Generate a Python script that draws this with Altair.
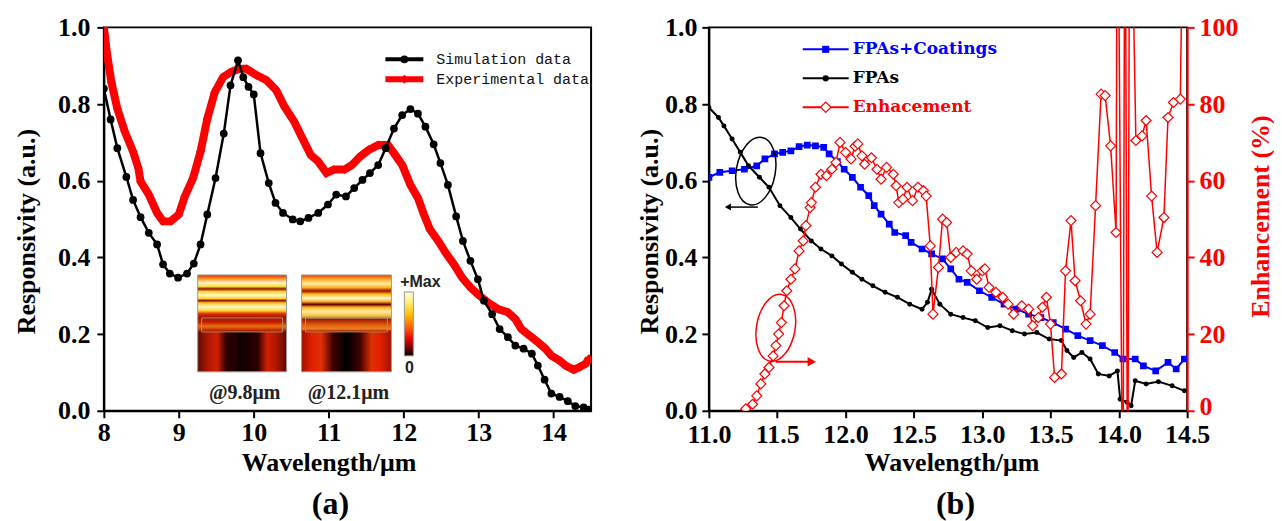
import altair as alt
import pandas as pd

SERIF = "Liberation Serif"
RED = "#ff0000"
BLUE = "#0000ff"

# ---------------- Panel (a) data ----------------
sim_x = [8.00, 8.09, 8.18, 8.30, 8.39, 8.49, 8.60, 8.71, 8.79, 8.88,
         8.99, 9.11, 9.20, 9.29, 9.38, 9.49, 9.60, 9.69, 9.79, 9.86,
         9.93, 10.00, 10.09, 10.20, 10.29, 10.39, 10.52, 10.62, 10.73, 10.86,
         10.99, 11.10, 11.23, 11.34, 11.45, 11.55, 11.66, 11.76, 11.87, 11.98,
         12.09, 12.19, 12.29, 12.40, 12.49, 12.59, 12.70, 12.79, 12.89, 12.99,
         13.07, 13.18, 13.28, 13.39, 13.49, 13.60, 13.71, 13.79, 13.88, 13.97,
         14.08, 14.19, 14.29, 14.40, 14.47]
sim_y = [0.840, 0.760, 0.685, 0.610, 0.550, 0.505, 0.464, 0.434, 0.382, 0.358,
         0.347, 0.358, 0.384, 0.434, 0.512, 0.607, 0.723, 0.849, 0.914, 0.870,
         0.845, 0.825, 0.672, 0.594, 0.542, 0.516, 0.499, 0.494, 0.503, 0.516,
         0.538, 0.564, 0.559, 0.581, 0.602, 0.620, 0.641, 0.685, 0.736, 0.771,
         0.787, 0.775, 0.741, 0.695, 0.646, 0.589, 0.507, 0.443, 0.391, 0.343,
         0.287, 0.252, 0.213, 0.192, 0.170, 0.162, 0.149, 0.118, 0.081, 0.045,
         0.036, 0.025, 0.012, 0.009, 0.003]

exp_x = [8.00, 8.04, 8.10, 8.18, 8.28, 8.39, 8.46, 8.49, 8.60, 8.71,
         8.79, 8.89, 9.00, 9.08, 9.19, 9.29, 9.38, 9.48, 9.59, 9.69,
         9.80, 9.90, 10.04, 10.17, 10.30, 10.41, 10.54, 10.65, 10.76, 10.86,
         10.97, 11.07, 11.21, 11.31, 11.42, 11.53, 11.66, 11.79, 11.87, 11.98,
         12.09, 12.19, 12.27, 12.35, 12.46, 12.56, 12.67, 12.78, 12.89, 12.99,
         13.12, 13.26, 13.39, 13.49, 13.57, 13.68, 13.79, 13.89, 13.97, 14.08,
         14.16, 14.27, 14.35, 14.43, 14.47]
exp_y = [1.000, 0.935, 0.857, 0.788, 0.728, 0.676, 0.633, 0.598, 0.564, 0.516,
         0.494, 0.494, 0.512, 0.559, 0.607, 0.676, 0.762, 0.831, 0.870, 0.883,
         0.892, 0.892, 0.875, 0.862, 0.836, 0.793, 0.754, 0.710, 0.667, 0.650,
         0.620, 0.629, 0.629, 0.641, 0.663, 0.680, 0.693, 0.693, 0.672, 0.641,
         0.589, 0.555, 0.512, 0.473, 0.443, 0.412, 0.382, 0.347, 0.322, 0.304,
         0.283, 0.265, 0.257, 0.239, 0.213, 0.196, 0.179, 0.162, 0.144, 0.131,
         0.118, 0.107, 0.114, 0.123, 0.136]

# ---------------- Panel (b) data ----------------
coat_x = [11.00, 11.08, 11.17, 11.26, 11.35, 11.41, 11.48, 11.54, 11.60, 11.66,
          11.72, 11.78, 11.84, 11.88, 11.94, 11.99, 12.05, 12.11, 12.17, 12.21,
          12.26, 12.32, 12.36, 12.44, 12.48, 12.56, 12.63, 12.71, 12.77, 12.83,
          12.89, 12.98, 13.07, 13.16, 13.25, 13.34, 13.43, 13.52, 13.61, 13.70,
          13.79, 13.88, 13.97, 14.03, 14.12, 14.18, 14.27, 14.36, 14.42, 14.48]
coat_y = [0.609, 0.622, 0.626, 0.630, 0.639, 0.657, 0.670, 0.674, 0.678, 0.689,
          0.693, 0.691, 0.687, 0.670, 0.650, 0.630, 0.609, 0.583, 0.561, 0.535,
          0.513, 0.487, 0.465, 0.457, 0.439, 0.422, 0.409, 0.396, 0.370, 0.343,
          0.335, 0.313, 0.296, 0.278, 0.265, 0.252, 0.243, 0.230, 0.213, 0.196,
          0.183, 0.170, 0.152, 0.135, 0.135, 0.117, 0.104, 0.126, 0.109, 0.135]

fpa_x = [11.00, 11.07, 11.11, 11.17, 11.23, 11.29, 11.37, 11.44, 11.52, 11.60,
         11.67, 11.75, 11.82, 11.90, 11.97, 12.05, 12.12, 12.20, 12.29, 12.38,
         12.47, 12.56, 12.60, 12.63, 12.69, 12.77, 12.86, 12.95, 13.04, 13.13,
         13.22, 13.31, 13.40, 13.49, 13.58, 13.62, 13.67, 13.73, 13.79, 13.85,
         13.93, 13.99, 14.01, 14.06, 14.09, 14.12, 14.20, 14.29, 14.39, 14.48]
fpa_y = [0.791, 0.765, 0.743, 0.709, 0.674, 0.639, 0.609, 0.583, 0.535, 0.504,
         0.474, 0.443, 0.422, 0.404, 0.383, 0.361, 0.343, 0.326, 0.309, 0.296,
         0.278, 0.265, 0.283, 0.317, 0.278, 0.252, 0.243, 0.235, 0.217, 0.222,
         0.209, 0.200, 0.204, 0.187, 0.183, 0.157, 0.139, 0.152, 0.135, 0.096,
         0.091, 0.104, 0.030, 0.022, 0.013, 0.078, 0.070, 0.076, 0.065, 0.052]

enh_x = [11.27, 11.32, 11.35, 11.38, 11.41, 11.44, 11.47, 11.49, 11.51, 11.53,
         11.55, 11.57, 11.60, 11.63, 11.66, 11.69, 11.71, 11.74, 11.75, 11.78,
         11.82, 11.86, 11.90, 11.93, 11.96, 12.00, 12.04, 12.07, 12.09, 12.12,
         12.14, 12.19, 12.23, 12.26, 12.30, 12.35, 12.37, 12.39, 12.42, 12.45,
         12.49, 12.53, 12.57, 12.59, 12.62, 12.64, 12.68, 12.71, 12.74, 12.77,
         12.81, 12.86, 12.89, 12.92, 12.96, 13.00, 13.02, 13.05, 13.10, 13.15,
         13.19, 13.23, 13.29, 13.34, 13.37, 13.41, 13.44, 13.47, 13.50, 13.53,
         13.58, 13.61, 13.65, 13.68, 13.72, 13.76, 13.79, 13.83, 13.87, 13.90,
         13.94, 13.98, 13.99, 14.03, 14.045, 14.065, 14.08, 14.125, 14.17, 14.20,
         14.24, 14.28, 14.33, 14.36, 14.40, 14.45, 14.48]
enh_y = [0.5, 1.7, 3.9, 7.0, 9.6, 11.3, 14.3, 17.0, 20.0, 23.0,
         27.4, 31.3, 34.3, 37.0, 41.7, 44.3, 48.3, 53.0, 54.3, 58.3,
         61.7, 61.3, 63.0, 64.8, 70.0, 67.4, 65.7, 69.0, 69.6, 66.5,
         64.3, 66.0, 63.0, 60.4, 63.5, 61.7, 58.7, 54.3, 55.2, 58.3,
         54.8, 58.3, 57.4, 56.0, 43.0, 25.2, 37.4, 50.0, 49.1, 40.0,
         41.3, 41.7, 40.9, 36.5, 34.3, 36.5, 37.0, 32.2, 30.9, 29.6,
         27.8, 25.2, 27.4, 26.5, 22.2, 24.3, 27.0, 29.6, 22.6, 8.7,
         9.6, 36.5, 49.6, 33.9, 28.7, 22.6, 25.2, 53.5, 82.6, 82.2,
         69.1, 46.5, 160.0, -40.0, 160.0, -40.0, 160.0, 70.5, 71.7, 75.7,
         56.0, 41.3, 50.4, 76.5, 80.4, 81.3, 160.0]

sim_df = pd.DataFrame({"x": sim_x, "y": sim_y})
exp_df = pd.DataFrame({"x": exp_x, "y": exp_y})
coat_df = pd.DataFrame({"x": coat_x, "y": coat_y})
fpa_df = pd.DataFrame({"x": fpa_x, "y": fpa_y})
enh_df = pd.DataFrame({"x": enh_x, "e": enh_y})

one = alt.Data(values=[{"k": 0}])


def mk_axis(values, major, label_expr, title, orient, color="black", pad=2, **kw):
    return alt.Axis(
        values=values, labelExpr=label_expr, orient=orient, title=title,
        tickSize={"condition": {"test": major, "value": 7}, "value": 4},
        tickWidth=2, tickColor=color, domainColor=color, domainWidth=2,
        labelFont=SERIF, labelFontSize=26, labelFontWeight="bold", labelColor=color,
        labelPadding=pad, labelOverlap=False, labelFlush=False, grid=False,
        titleFont=SERIF, titleFontSize=26, titleFontWeight="bold", titleColor=color,
        titleBaseline="middle", titleAlign="center", **kw)


def vrule(x1, x2, y, color, width):
    return alt.Chart(one).mark_rule(color=color, strokeWidth=width).encode(
        x=alt.value(x1), x2=alt.value(x2), y=alt.value(y))


def vpoint(x, y, **mk):
    return alt.Chart(one).mark_point(opacity=1, **mk).encode(x=alt.value(x), y=alt.value(y))


def vtext(x, y, txt, **mk):
    return alt.Chart(one).mark_text(text=txt, **mk).encode(x=alt.value(x), y=alt.value(y))


def vrect(x1, x2, y1, y2, **mk):
    return alt.Chart(one).mark_rect(**mk).encode(
        x=alt.value(x1), x2=alt.value(x2), y=alt.value(y1), y2=alt.value(y2))


def grad(stops, horizontal=False):
    return alt.LinearGradient(
        gradient="linear",
        stops=[alt.GradientStop(color=c, offset=o) for o, c in stops],
        x1=0, y1=0, x2=1 if horizontal else 0, y2=0 if horizontal else 1)


y_vals = [round(0.1 * i, 1) for i in range(11)]
y_major = "round(datum.value*10) % 2 === 0"
y_label = "round(datum.value*10) % 2 === 0 ? format(datum.value, '.1f') : ''"

# ---------------- Panel (a) ----------------
WA, HA = 488, 384
xa_axis = mk_axis([8 + 0.5 * i for i in range(14)], "datum.value % 1 === 0",
                  "datum.value % 1 === 0 ? format(datum.value, 'd') : ''",
                  "Wavelength/μm", "bottom", titleX=225, titleY=52)
ya_axis = mk_axis(y_vals, y_major, y_label, "Responsivity (a.u.)", "left", pad=7,
                  titleX=-77, titleY=204, titleAngle=270)
xa = alt.X("x:Q", scale=alt.Scale(domain=[8, 14.5], nice=False, zero=False), axis=xa_axis)
ya = alt.Y("y:Q", scale=alt.Scale(domain=[0, 1], nice=False), axis=ya_axis)

exp_line = alt.Chart(exp_df).mark_line(color=RED, strokeWidth=8, clip=True).encode(x=xa, y=ya)
exp_pts = alt.Chart(exp_df).mark_point(shape="diamond", size=80, filled=True, color=RED,
                                       opacity=1, clip=True).encode(x="x:Q", y="y:Q")
sim_line = alt.Chart(sim_df).mark_line(color="black", strokeWidth=2.5, clip=True).encode(x="x:Q", y="y:Q")
sim_pts = alt.Chart(sim_df).mark_point(shape="circle", size=60, filled=True, color="black",
                                       opacity=1, clip=True).encode(x="x:Q", y="y:Q")

# inset field maps
top9 = [(0, "#d83000"), (0.06, "#ff8a20"), (0.14, "#fff8c8"), (0.2, "#ffe040"),
        (0.246, "#901000"), (0.29, "#ffd030"), (0.356, "#fff8c8"), (0.415, "#ffd030"),
        (0.45, "#901000"), (0.49, "#ffc020"), (0.56, "#fff8c8"), (0.63, "#ffd030"),
        (0.68, "#e03000"), (0.745, "#a01000"), (0.83, "#c02000"), (0.9, "#f07010"),
        (0.966, "#c03000"), (1, "#700800")]
top12 = [(0, "#e04000"), (0.068, "#ffa020"), (0.153, "#fff0a0"), (0.22, "#ffb020"),
         (0.28, "#a01000"), (0.34, "#ffc020"), (0.41, "#fff8c8"), (0.466, "#ffb020"),
         (0.517, "#600000"), (0.568, "#ffb020"), (0.644, "#fff0a0"), (0.71, "#ffc040"),
         (0.746, "#b0a060"), (0.78, "#a01800"), (0.88, "#e06010"), (0.95, "#f08020"),
         (1, "#800800")]
bot9 = [(0, "#600800"), (0.12, "#b01800"), (0.22, "#d02000"), (0.32, "#300000"),
        (0.5, "#100000"), (0.68, "#300000"), (0.78, "#d02000"), (0.88, "#b01800"), (1, "#600800")]
bot12 = [(0, "#a01000"), (0.12, "#e02000"), (0.22, "#e03000"), (0.35, "#400000"),
         (0.5, "#000000"), (0.65, "#400000"), (0.78, "#e03000"), (0.88, "#e02000"), (1, "#a01000")]
cbar = [(0, "#ffffe0"), (0.15, "#fff080"), (0.35, "#ffc000"), (0.55, "#ff6000"),
        (0.75, "#e00000"), (0.9, "#600000"), (1, "#000000")]

inset = [
    vrect(94, 183, 248, 305, color=grad(top9)),
    vrect(94, 183, 305, 345, color=grad(bot9, True)),
    vrect(198, 288, 248, 305, color=grad(top12)),
    vrect(198, 288, 305, 345, color=grad(bot12, True)),
    vrect(98, 179, 291, 305, fillOpacity=0, stroke="#b09060", strokeWidth=1),
    vrect(202, 284, 291, 305, fillOpacity=0, stroke="#b09060", strokeWidth=1),
    vrect(94, 183, 248, 345, fillOpacity=0, stroke="#999999", strokeWidth=1),
    vrect(198, 288, 248, 345, fillOpacity=0, stroke="#999999", strokeWidth=1),
    vrect(301, 310, 265, 329, color=grad(cbar), stroke="#999999", strokeWidth=1),
    vtext(317, 255, "+Max", font="Liberation Sans", fontSize=16, fontWeight="bold", color="#222"),
    vtext(306, 341, "0", font="Liberation Sans", fontSize=16, fontWeight="bold", color="#222"),
    vtext(141, 366, "@9.8μm", font=SERIF, fontSize=20, fontWeight="bold", color="#222"),
    vtext(245, 366, "@12.1μm", font=SERIF, fontSize=20, fontWeight="bold", color="#222"),
]

leg_a = [
    vrule(282, 320, 32, "black", 4),
    vpoint(301, 32, shape="circle", size=60, filled=True, color="black"),
    vtext(333, 32, "Simulation data", font="Liberation Mono", fontSize=15, align="left", color="#111"),
    vrule(282, 320, 52, RED, 6),
    vpoint(301, 52, shape="diamond", size=80, filled=True, color=RED),
    vtext(333, 52, "Experimental data", font="Liberation Mono", fontSize=15, align="left", color="#111"),
]

lab_a = vtext(227, 477, "(a)", font=SERIF, fontSize=32, fontWeight="bold", color="black")

panel_a = alt.layer(exp_line, *inset, exp_pts, sim_line, sim_pts, *leg_a, lab_a).properties(
    width=WA, height=HA)

# ---------------- Panel (b) ----------------
WB, HB = 479, 384
xb_axis = mk_axis([11 + 0.25 * i for i in range(15)], "round(datum.value*4) % 2 === 0",
                  "round(datum.value*4) % 2 === 0 ? format(datum.value, '.1f') : ''",
                  "Wavelength/μm", "bottom", pad=4, titleX=243, titleY=52)
yb_axis = mk_axis(y_vals, y_major, y_label, "Responsivity (a.u.)", "left", pad=5,
                  titleX=-59, titleY=204, titleAngle=270)
yr_axis = mk_axis(list(range(0, 101, 10)), "datum.value % 20 === 0",
                  "datum.value % 20 === 0 ? format(datum.value, 'd') : ''",
                  "Enhancement (%)", "right", color=RED, pad=5,
                  titleX=73, titleY=189, titleAngle=270,
                  labelOffset={"condition": {"test": "datum.value === 0", "value": -4}, "value": 0})
xb = alt.X("x:Q", scale=alt.Scale(domain=[11, 14.5], nice=False, zero=False), axis=xb_axis)
yb = alt.Y("y:Q", scale=alt.Scale(domain=[0, 1], nice=False), axis=yb_axis)
yr = alt.Y("e:Q", scale=alt.Scale(domain=[0, 100], nice=False), axis=yr_axis)

coat_line = alt.Chart(coat_df).mark_line(color=BLUE, strokeWidth=2, clip=True).encode(x=xb, y=yb)
coat_pts = alt.Chart(coat_df).mark_point(shape="square", size=45, filled=True, color=BLUE,
                                         opacity=1, clip=True).encode(x="x:Q", y="y:Q")
fpa_line = alt.Chart(fpa_df).mark_line(color="black", strokeWidth=2, clip=True).encode(x="x:Q", y="y:Q")
fpa_pts = alt.Chart(fpa_df).mark_point(shape="circle", size=25, filled=True, color="black",
                                       opacity=1, clip=True).encode(x="x:Q", y="y:Q")

ELL = "M 0 -1 A 0.57 1 0 1 1 0 1 A 0.57 1 0 1 1 0 -1 Z"
annot_b = [
    vpoint(47, 144, shape=ELL, size=4700, filled=False, color="black", strokeWidth=1.5, angle=10),
    vrule(22, 49, 180, "black", 1.5),
    vpoint(19, 180, shape="triangle-left", size=50, filled=True, color="black"),
    vpoint(67, 301, shape=ELL, size=4600, filled=False, color=RED, strokeWidth=1.5, angle=10),
    vrule(67, 100, 335, RED, 2),
    vpoint(103, 335, shape="triangle-right", size=90, filled=True, color=RED),
]

LEGF = "DejaVu Serif"
leg_b = [
    vrule(94, 140, 22, BLUE, 2),
    vpoint(117, 22, shape="square", size=50, filled=True, color=BLUE),
    vtext(144, 22, "FPAs+Coatings", font=LEGF, fontSize=17, fontWeight="bold", align="left", color=BLUE),
    vrule(94, 140, 51, "black", 2),
    vpoint(117, 51, shape="circle", size=40, filled=True, color="black"),
    vtext(144, 51, "FPAs", font=LEGF, fontSize=17, fontWeight="bold", align="left", color="black"),
    vrule(94, 140, 80, RED, 2),
    vpoint(117, 80, shape="diamond", size=110, filled=True, fill="white", stroke=RED, strokeWidth=1.2),
    vtext(144, 80, "Enhacement", font=LEGF, fontSize=17, fontWeight="bold", align="left", color=RED),
]

lab_b = vtext(247, 477, "(b)", font=SERIF, fontSize=32, fontWeight="bold", color="black")

enh_line = alt.Chart(enh_df).mark_line(color=RED, strokeWidth=1.5, clip=True).encode(x=xb, y=yr)
enh_pts = alt.Chart(enh_df).mark_point(shape="diamond", size=100, filled=True, fill="white",
                                       stroke=RED, strokeWidth=1.2, opacity=1, clip=True).encode(
    x="x:Q", y="e:Q")

left_b = alt.layer(coat_line, coat_pts, fpa_line, fpa_pts, *annot_b, *leg_b, lab_b)
right_b = alt.layer(enh_line, enh_pts)
panel_b = alt.layer(left_b, right_b).resolve_scale(y="independent").properties(width=WB, height=HB)

chart = alt.hconcat(panel_a, panel_b, spacing=44).properties(
    padding={"left": 5, "top": 5, "right": 0, "bottom": 0},
    background="white",
).configure_view(stroke="black", strokeWidth=2)

chart.save("out.html", embed_options={"renderer": "svg", "actions": False})
